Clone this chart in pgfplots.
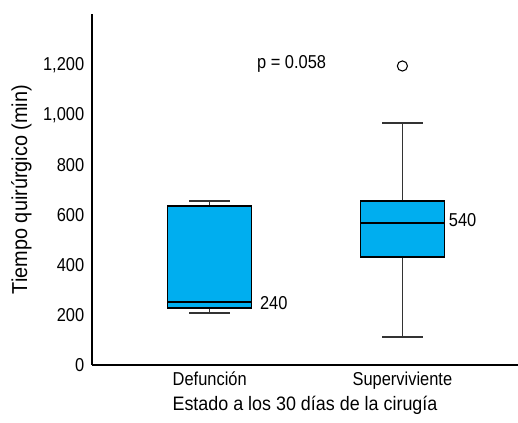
\documentclass[border=0pt]{standalone}
\usepackage{pgfplots}
\pgfplotsset{compat=1.18}
\usepackage{fontspec}
\setmainfont{Liberation Sans}[FakeStretch=0.88]
\newfontfamily\labfont{Liberation Sans}[FakeStretch=0.92]
\definecolor{boxblue}{RGB}{0,174,239}
\begin{document}
\fontsize{14}{16}\selectfont
\begin{tikzpicture}
\begin{axis}[
  scale only axis,
  width=319.5pt, height=263.25pt,
  xmin=0.389, xmax=2.6,
  ymin=0, ymax=1404,
  axis lines=left,
  axis line style={-, line width=0.9pt},
  xtick={1,2}, xticklabels={Defunción, Superviviente},
  ytick={0,200,400,600,800,1000,1200},
  major tick length=0pt,
  /pgf/number format/assume math mode=true,
  /pgf/number format/1000 sep={,},
  tick label style={font=\fontsize{14}{16}\selectfont},
  yticklabel style={xshift=-1pt},
  xticklabel style={yshift=0pt},
  xlabel={Estado a los 30 días de la cirugía},
  ylabel={Tiempo quirúrgico (min)},
  xlabel style={font=\labfont\fontsize{14.6}{16}\selectfont, yshift=4pt},
  ylabel style={font=\labfont\fontsize{16.2}{17}\selectfont, yshift=-1pt},
  clip=false,
]
% Defuncion: lw=208, q1=228, med=252, q3=636, uw=656
\addplot[draw=black!80, line width=0.8pt] coordinates {(1,636) (1,656)};
\addplot[draw=black!80, line width=0.8pt] coordinates {(1,228) (1,208)};
\addplot[draw=black!80, line width=0.8pt] coordinates {(0.895,656) (1.105,656)};
\addplot[draw=black!80, line width=0.8pt] coordinates {(0.895,208) (1.105,208)};
\addplot[draw=black, line width=0.9pt, fill=boxblue] coordinates {(0.7825,228) (1.2175,228) (1.2175,636) (0.7825,636)} --cycle;
\addplot[draw=black, line width=2pt] coordinates {(0.7825,252) (1.2175,252)};
% Superviviente: lw=112, q1=432, med=568, q3=656, uw=968, outlier 1196
\addplot[draw=black!80, line width=0.8pt] coordinates {(2,656) (2,968)};
\addplot[draw=black!80, line width=0.8pt] coordinates {(2,432) (2,112)};
\addplot[draw=black!80, line width=0.8pt] coordinates {(1.895,968) (2.105,968)};
\addplot[draw=black!80, line width=0.8pt] coordinates {(1.895,112) (2.105,112)};
\addplot[draw=black, line width=0.9pt, fill=boxblue] coordinates {(1.7825,432) (2.2175,432) (2.2175,656) (1.7825,656)} --cycle;
\addplot[draw=black, line width=2pt] coordinates {(1.7825,568) (2.2175,568)};
\addplot[only marks, mark=o, mark size=3.8pt, mark options={draw=black, line width=0.8pt}] coordinates {(2,1196)};
\node[anchor=west, inner sep=0pt] at (axis cs:1.26,248) {240};
\node[anchor=west, inner sep=0pt] at (axis cs:2.24,580) {540};
\node[inner sep=0pt] at (axis cs:1.425,1204) {p = 0.058};
\end{axis}
\pgfresetboundingbox
\path (-69pt,-43.5pt) rectangle (319.5pt,273.75pt);
\end{tikzpicture}
\end{document}
